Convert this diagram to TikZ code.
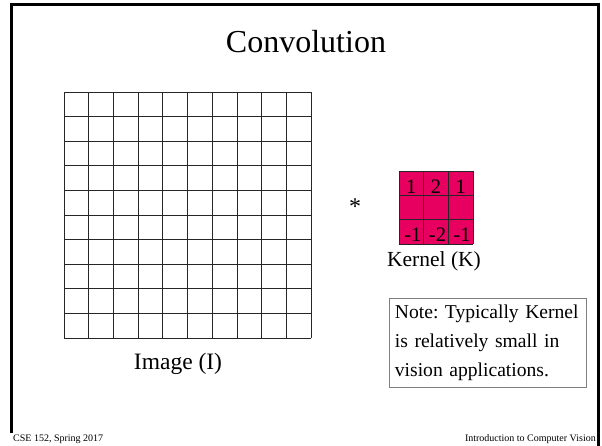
\documentclass[tikz,border=0pt]{standalone}
\usepackage{fontspec}
\setmainfont{Liberation Serif}
\definecolor{kernelred}{RGB}{232,0,96}
\begin{document}
\begin{tikzpicture}[
    x=1pt,y=-1pt,
    frame/.style={line width=3pt},
    cell/.style={line width=0.8pt,black!85},
    digit/.style={anchor=base,inner sep=0pt,font=\fontsize{20.5}{24}\selectfont},
    caption/.style={anchor=base,inner sep=0pt},
    note/.style={draw=black!50,line width=0.8pt,anchor=north west,align=left,
        text width=186pt,inner xsep=5.5pt,minimum height=89pt,
        font=\fontsize{19.6}{29}\selectfont\frenchspacing},
    footer/.style={inner sep=0pt,font=\fontsize{10}{12}\selectfont}
]
\useasboundingbox (0,0) rectangle (602,446);
% slide frame
\draw[frame] (11.7,433) -- (11.7,4.5) -- (598.8,4.5) -- (598.8,446);
\node[caption,font=\fontsize{32}{38}\selectfont] (title) at (306,53) {Convolution};

% image grid
\foreach \i in {0,...,10} {
  \draw[cell] ({64+24.7*\i},92) -- ({64+24.7*\i},338);
  \draw[cell] (64,{92+24.6*\i}) -- (311,{92+24.6*\i});
}
\node[caption,font=\fontsize{23.5}{28}\selectfont] (imglabel) at (178,369) {Image (I)};

% kernel
\fill[kernelred] (399,171) rectangle (473,244);
\foreach \i in {0,...,3} {
  \draw[cell] ({399+24.67*\i},171) -- ({399+24.67*\i},244);
  \draw[cell] (399,{171+24.33*\i}) -- (473,{171+24.33*\i});
}
\foreach \d [count=\n] in {1,2,1}
  \node[digit] (top\n) at ({399+24.67*(\n-0.5)},194) {\d};
\foreach \d [count=\n] in {-1,-2,-1}
  \node[digit] (bot\n) at ({399+24.67*(\n-0.5)+1.5},242) {\d};
\node[caption,font=\fontsize{24}{28}\selectfont] (star) at (355,215) {*};
\node[caption,font=\fontsize{21.5}{26}\selectfont] (kerlabel) at (434,266) {Kernel (K)};

\node[note] (note) at (389,298) {Note: Typically Kernel\\is relatively small in\\vision applications.};

% footer
\node[footer,anchor=base west] (course) at (13,441) {CSE 152, Spring 2017};
\node[footer,anchor=base east] (topic) at (596,441) {Introduction to Computer Vision};
\end{tikzpicture}
\end{document}
